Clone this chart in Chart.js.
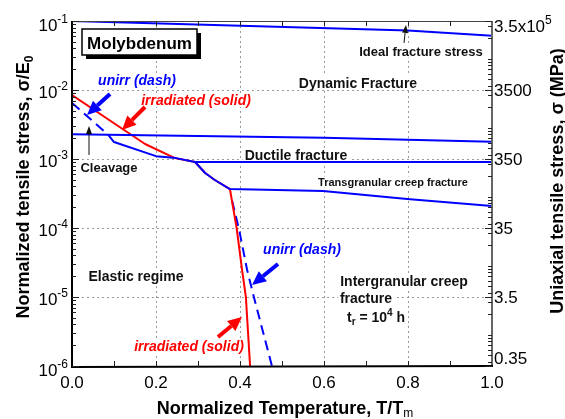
<!DOCTYPE html>
<html lang="en">
<head>
  <meta charset="UTF-8">
  <title>Molybdenum deformation and fracture map</title>
  <style>
    body { margin: 0; background: #fff; }
    canvas { display: block; }
  </style>
</head>
<body>
  <canvas id="chart" width="565" height="419"></canvas>

  <script src="https://cdn.jsdelivr.net/npm/chart.js"></script>
  <script>
    // ---- data (x = T/Tm, y = sigma/E0) ----
    const tempIdeal = [0, 0.57, 0.8, 1.0];
    const stressIdeal = [0.1, 0.080, 0.0728, 0.0612];

    const tempDuctileTop = [0, 0.6, 1.0];
    const stressDuctileTop = [0.00228, 0.00204, 0.00178];

    const tempDuctile = [0.086, 0.1, 0.2, 0.248, 0.293, 1.0];
    const stressDuctile = [0.00225, 0.00176, 0.0011, 0.00103, 0.000906, 0.000906];

    const tempCreep = [0.293, 0.317, 0.340, 0.376, 0.598, 0.798, 1.0];
    const stressCreep = [0.000906, 0.000627, 0.000496, 0.000367, 0.000343, 0.000263, 0.000208];

    const tempIrr = [0, 0.124, 0.174, 0.245, 0.293, 0.317, 0.340, 0.376, 0.392, 0.405, 0.414, 0.424];
    const stressIrr = [0.00846, 0.00263, 0.00165, 0.00103, 0.000906, 0.000627, 0.000496, 0.000367, 1e-4, 2.46e-5, 1e-5, 1e-6];

    const tempCleave = [0, 0.086];
    const stressCleave = [0.00649, 0.00225];

    const tempUnirr = [0.381, 0.398, 0.417, 0.433, 0.476];
    const stressUnirr = [0.00025, 9.35e-5, 2.46e-5, 1e-5, 1e-6];

    // ticks / labels
    const tempTicks = [0, 0.2, 0.4, 0.6, 0.8, 1.0];
    const tempTickLabels = ['0.0', '0.2', '0.4', '0.6', '0.8', '1.0'];
    const gridTemps = [0.2, 0.4, 0.6, 0.8];
    const stressDecades = [1e-1, 1e-2, 1e-3, 1e-4, 1e-5, 1e-6];
    const stressExpLabels = ['-1', '-2', '-3', '-4', '-5', '-6'];
    const gridStress = [1e-2, 1e-3, 1e-4, 1e-5];
    const mpaLabels = ['3.5x10', '3500', '350', '35', '3.5', '0.35'];
    const mpaSup = ['5', '', '', '', '', ''];

    const BLUE = '#0000ff';
    const RED = '#ff0000';
    const FONT = '"Liberation Sans", Arial, Helvetica, sans-serif';

    function pts(xs, ys) {
      return xs.map((v, i) => ({ x: v, y: ys[i] }));
    }

    function series(xs, ys, color, dash) {
      return {
        data: pts(xs, ys),
        showLine: true,
        borderColor: color,
        borderWidth: 2,
        borderDash: dash || [],
        pointRadius: 0,
        fill: false,
        borderJoinStyle: 'round'
      };
    }

    // draw a run of text pieces (sub/superscripts) on one baseline
    function drawRich(ctx, segs, x, base, align) {
      let total = 0;
      segs.forEach(s => {
        ctx.font = `${s.w || ''} ${s.s}px ${FONT}`;
        s.width = ctx.measureText(s.t).width;
        total += s.width;
      });
      let cx = align === 'center' ? x - total / 2 : align === 'right' ? x - total : x;
      ctx.textAlign = 'left';
      ctx.textBaseline = 'alphabetic';
      segs.forEach(s => {
        ctx.font = `${s.w || ''} ${s.s}px ${FONT}`;
        ctx.fillText(s.t, cx, base + (s.dy || 0));
        cx += s.width;
      });
      return total;
    }

    function arrow(ctx, x1, y1, x2, y2, w, head, hw, color) {
      const a = Math.atan2(y2 - y1, x2 - x1);
      const bx = x2 - head * Math.cos(a), by = y2 - head * Math.sin(a);
      ctx.strokeStyle = color;
      ctx.fillStyle = color;
      ctx.lineWidth = w;
      ctx.beginPath();
      ctx.moveTo(x1, y1);
      ctx.lineTo(bx, by);
      ctx.stroke();
      ctx.beginPath();
      ctx.moveTo(x2, y2);
      ctx.lineTo(bx + hw * Math.sin(a), by - hw * Math.cos(a));
      ctx.lineTo(bx - hw * Math.sin(a), by + hw * Math.cos(a));
      ctx.closePath();
      ctx.fill();
    }

    // text notes on the map (pixel positions, centre of text)
    const notes = [
      { t: 'Ideal fracture stress', x: 421, y: 51, s: 13, c: '#111', w: 'bold' },
      { t: 'Dynamic Fracture', x: 358, y: 83, s: 14, c: '#111', w: 'bold' },
      { t: 'Ductile fracture', x: 296, y: 155, s: 14, c: '#111', w: 'bold' },
      { t: 'Transgranular creep fracture', x: 393, y: 182, s: 11, c: '#111', w: 'bold' },
      { t: 'Elastic regime', x: 136, y: 276, s: 14, c: '#111', w: 'bold' },
      { t: 'Cleavage', x: 109, y: 167, s: 13, c: '#111', w: 'bold' },
      { t: 'unirr (dash)', x: 137, y: 80, s: 14, c: BLUE, w: 'italic bold' },
      { t: 'irradiated (solid)', x: 196, y: 100, s: 14, c: RED, w: 'italic bold' },
      { t: 'unirr (dash)', x: 302, y: 249, s: 14, c: BLUE, w: 'italic bold' },
      { t: 'irradiated (solid)', x: 189, y: 346, s: 14, c: RED, w: 'italic bold' },
      { t: 'Intergranular creep', x: 404, y: 281, s: 14, c: '#111', w: 'bold' },
      { t: 'fracture', x: 366, y: 298, s: 14, c: '#111', w: 'bold' }
    ];

    const paper = {
      id: 'paper',
      beforeDatasetsDraw(chart) {
        const { ctx, chartArea: a, scales: { x, y } } = chart;
        ctx.save();
        ctx.strokeStyle = '#9a9a9a';
        ctx.lineWidth = 1;
        ctx.setLineDash([2, 3]);
        gridTemps.forEach(v => {
          const px = Math.round(x.getPixelForValue(v)) + 0.5;
          ctx.beginPath(); ctx.moveTo(px, a.top); ctx.lineTo(px, a.bottom); ctx.stroke();
        });
        gridStress.forEach(v => {
          const py = Math.round(y.getPixelForValue(v)) + 0.5;
          ctx.beginPath(); ctx.moveTo(a.left, py); ctx.lineTo(a.right, py); ctx.stroke();
        });
        ctx.setLineDash([]);
        // white patches behind the notes
        ctx.fillStyle = '#fff';
        notes.forEach(n => {
          ctx.font = `${n.w} ${n.s}px ${FONT}`;
          const w = ctx.measureText(n.t).width;
          ctx.fillRect(n.x - w / 2 - 2, n.y - n.s * 0.5, w + 4, n.s);
        });
        ctx.fillRect(345, 309, 60, 18);
        ctx.restore();
      },
      afterDatasetsDraw(chart) {
        const { ctx, chartArea: a, scales: { x, y } } = chart;
        ctx.save();

        // frame
        ctx.lineWidth = 1;
        ctx.strokeStyle = '#444';
        ctx.beginPath(); ctx.moveTo(a.left, a.top + 0.5); ctx.lineTo(a.right, a.top + 0.5); ctx.stroke();
        ctx.lineWidth = 2;
        ctx.strokeStyle = '#666';
        ctx.beginPath(); ctx.moveTo(a.right, a.top); ctx.lineTo(a.right, a.bottom); ctx.stroke();
        ctx.strokeStyle = '#000';
        ctx.beginPath(); ctx.moveTo(a.left, a.top); ctx.lineTo(a.left, a.bottom + 1); ctx.lineTo(a.right + 1, a.bottom); ctx.stroke();

        // x ticks (inside, bottom and top)
        ctx.lineWidth = 1;
        ctx.strokeStyle = '#222';
        for (let i = 1; i < 10; i++) {
          const px = Math.round(x.getPixelForValue(i / 10)) + 0.5;
          ctx.beginPath(); ctx.moveTo(px, a.bottom); ctx.lineTo(px, a.bottom - 5); ctx.stroke();
          ctx.beginPath(); ctx.moveTo(px, a.top); ctx.lineTo(px, a.top + 5); ctx.stroke();
        }
        // y ticks left (log minor) and right (MPa minor)
        for (let e = -6; e < -1 + 0.5; e++) {
          for (let m = 1; m < 10; m++) {
            const v = m * Math.pow(10, e);
            if (v > 0.1 + 1e-12 || v < 1e-6) continue;
            const py = Math.round(y.getPixelForValue(v)) + 0.5;
            const len = m === 1 ? 7 : 4;
            ctx.beginPath(); ctx.moveTo(a.left, py); ctx.lineTo(a.left + len, py); ctx.stroke();
          }
        }
        for (let e = -1; e < 6; e++) {
          for (let m = 1; m < 10; m++) {
            const v = m * Math.pow(10, e) / 3.5e5;
            if (v > 0.1 || v < 1e-6) continue;
            const py = Math.round(y.getPixelForValue(v)) + 0.5;
            ctx.beginPath(); ctx.moveTo(a.right, py); ctx.lineTo(a.right - 4, py); ctx.stroke();
          }
        }
        stressDecades.forEach(v => {
          const py = Math.round(y.getPixelForValue(v)) + 0.5;
          ctx.beginPath(); ctx.moveTo(a.right, py); ctx.lineTo(a.right - 7, py); ctx.stroke();
        });

        // tick labels
        ctx.fillStyle = '#000';
        tempTicks.forEach((v, i) => {
          drawRich(ctx, [{ t: tempTickLabels[i], s: 17 }], x.getPixelForValue(v), 388, 'center');
        });
        stressDecades.forEach((v, i) => {
          let cy = y.getPixelForValue(v) + 2;
          if (i === 0) cy = a.top + 4;
          if (i === stressDecades.length - 1) cy = a.bottom + 4;
          drawRich(ctx, [{ t: '10', s: 17 }, { t: stressExpLabels[i], s: 12, dy: -8 }], a.left - 4, cy + 6, 'right');
        });
        stressDecades.forEach((v, i) => {
          let cy = y.getPixelForValue(v);
          cy = Math.min(Math.max(cy, a.top + 5), a.bottom - 8);
          const segs = [{ t: mpaLabels[i], s: 17 }];
          if (mpaSup[i]) segs.push({ t: mpaSup[i], s: 12, dy: -8 });
          drawRich(ctx, segs, a.right + 2, cy + 6, 'left');
        });

        // axis titles
        drawRich(ctx, [
          { t: 'Normalized Temperature, T/T', s: 18, w: 'bold' },
          { t: 'm', s: 12, dy: 3 }
        ], 285, 414, 'center');
        ctx.save();
        ctx.translate(22, 187);
        ctx.rotate(-Math.PI / 2);
        drawRich(ctx, [
          { t: 'Normalized tensile stress, \u03c3/E', s: 18, w: 'bold' },
          { t: '0', s: 12, dy: 4, w: 'bold' }
        ], 0, 6.5, 'center');
        ctx.restore();
        ctx.save();
        ctx.translate(556, 181);
        ctx.rotate(-Math.PI / 2);
        drawRich(ctx, [{ t: 'Uniaxial tensile stress, \u03c3 (MPa)', s: 18, w: 'bold' }], 0, 6.5, 'center');
        ctx.restore();

        // notes
        notes.forEach(n => {
          ctx.fillStyle = n.c;
          drawRich(ctx, [{ t: n.t, s: n.s, w: n.w }], n.x, n.y + n.s * 0.36, 'center');
        });
        ctx.fillStyle = '#111';
        drawRich(ctx, [
          { t: 't', s: 14, w: 'bold' },
          { t: 'r', s: 10, dy: 3, w: 'bold' },
          { t: ' = 10', s: 14, w: 'bold' },
          { t: '4', s: 10, dy: -6, w: 'bold' },
          { t: ' h', s: 14, w: 'bold' }
        ], 347, 322, 'left');

        // arrows
        arrow(ctx, 110, 94, 87, 115, 4, 14, 6.5, BLUE);
        arrow(ctx, 145, 107, 122, 130, 4, 14, 6.5, RED);
        arrow(ctx, 278, 264, 252, 285, 4, 14, 6.5, BLUE);
        arrow(ctx, 218, 337, 242, 317, 4, 14, 6.5, RED);
        arrow(ctx, 89, 155, 89, 126, 1, 8, 3, '#111');
        arrow(ctx, 404, 43, 406, 25, 1, 8, 3, '#111');

        // material box with shadow
        ctx.fillStyle = '#000';
        ctx.fillRect(86, 33, 115, 26);
        ctx.fillStyle = '#fff';
        ctx.fillRect(82, 29, 115, 26);
        ctx.strokeStyle = '#000';
        ctx.lineWidth = 1.5;
        ctx.strokeRect(82, 29, 115, 26);
        ctx.fillStyle = '#000';
        drawRich(ctx, [{ t: 'Molybdenum', s: 17, w: 'bold' }], 139.5, 48.5, 'center');

        ctx.restore();
      }
    };

    // dataset 0 is drawn on top, the last one at the bottom
    const datasets = [
      series(tempIdeal, stressIdeal, BLUE),
      series(tempDuctileTop, stressDuctileTop, BLUE),
      series(tempDuctile, stressDuctile, BLUE),
      series(tempCreep, stressCreep, BLUE),
      series(tempIrr, stressIrr, RED),
      series(tempCleave, stressCleave, BLUE, [10, 6]),
      series(tempUnirr, stressUnirr, BLUE, [10, 6])
    ];

    new Chart(document.getElementById('chart').getContext('2d'), {
      type: 'scatter',
      data: { datasets: datasets },
      options: {
        responsive: false,
        animation: false,
        layout: { padding: { top: 21, right: 73, left: 0, bottom: 0 } },
        plugins: { legend: { display: false }, tooltip: { enabled: false } },
        scales: {
          x: {
            type: 'linear',
            min: 0,
            max: 1,
            grid: { display: false },
            border: { display: false },
            ticks: { display: false },
            afterFit: s => { s.height = 53; }
          },
          y: {
            type: 'logarithmic',
            min: 1e-6,
            max: 0.1,
            grid: { display: false },
            border: { display: false },
            ticks: { display: false },
            afterFit: s => { s.width = 72; }
          }
        }
      },
      plugins: [paper]
    });
  </script>
</body>
</html>
